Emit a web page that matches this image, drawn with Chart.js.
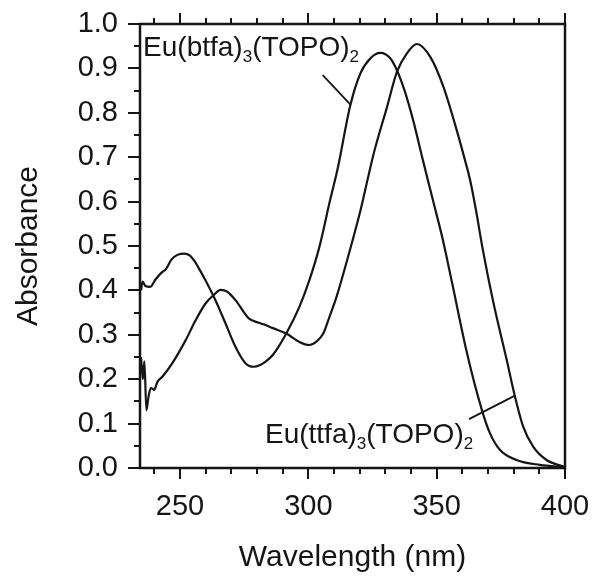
<!DOCTYPE html>
<html>
<head>
<meta charset="utf-8">
<script src="https://cdn.jsdelivr.net/npm/chart.js@4"></script>
<style>
  html, body { margin: 0; padding: 0; background: #fff; }
  #wrap { width: 592px; height: 576px; }
</style>
</head>
<body>
<div id="wrap"><canvas id="absChart" width="592" height="576"></canvas></div>
<script>
// Eu(btfa)3(TOPO)2 - wavelength (nm) / absorbance
const btfaWl = [234.8, 235.4, 236.5, 238.4, 240.5, 242.8, 244.5, 246.7, 249, 251.6, 254, 255.4, 257.5, 259.9,
  263.8, 267.7, 271.6, 275.5, 278.7, 281.2, 283.2, 286.2, 291.4, 296.5, 300.4, 304.3, 308.5, 311.3, 316.4,
  320.3, 324.2, 328, 331.9, 334.5, 337.5, 340.8, 344.6, 348.5, 352.4, 356, 361.8, 367.6, 370.7, 374.6,
  381.1, 390.2, 400];
const btfaAbs = [0.40, 0.42, 0.41, 0.408, 0.425, 0.44, 0.448, 0.47, 0.48, 0.483, 0.478, 0.468, 0.448, 0.423,
  0.378, 0.326, 0.273, 0.236, 0.228, 0.232, 0.239, 0.255, 0.303, 0.363, 0.423, 0.498, 0.604, 0.671, 0.818,
  0.889, 0.923, 0.935, 0.923, 0.896, 0.85, 0.784, 0.694, 0.604, 0.514, 0.417, 0.259, 0.131, 0.079, 0.041,
  0.018, 0.007, 0.002];

// Eu(ttfa)3(TOPO)2
const ttfaWl = [234.8, 235.5, 236.1, 236.9, 237.7, 238.6, 239.9, 241.2, 243.2, 247, 252.2, 256.1, 260,
  263.2, 265.8, 268.4, 271.6, 276.8, 280.7, 283.3, 286.2, 291.4, 296.5, 300.4, 303.2, 305.8, 308.2, 311,
  316.2, 320.3, 325.5, 330.7, 334.5, 338.4, 342.3, 347.5, 352.6, 357.8, 361, 363, 365.3, 368, 371.9,
  377.3, 380.5, 383.7, 387.6, 392.8, 400];
const ttfaAbs = [0.25, 0.20, 0.24, 0.13, 0.16, 0.18, 0.176, 0.194, 0.206, 0.236, 0.288, 0.333, 0.371,
  0.39, 0.401, 0.397, 0.378, 0.337, 0.327, 0.322, 0.315, 0.303, 0.284, 0.277, 0.285, 0.303, 0.34, 0.386,
  0.491, 0.58, 0.709, 0.814, 0.892, 0.934, 0.955, 0.926, 0.859, 0.761, 0.694, 0.649, 0.581, 0.491, 0.378,
  0.243, 0.161, 0.093, 0.048, 0.018, 0.002];

const xTickLabels = [250, 300, 350, 400];
const yTickLabels = ['0.0', '0.1', '0.2', '0.3', '0.4', '0.5', '0.6', '0.7', '0.8', '0.9', '1.0'];

const FONT = '"Liberation Sans", Arial, sans-serif';
const INK = '#151515';

const toPoints = (xs, ys) => xs.map((x, i) => ({ x: x, y: ys[i] }));

// axis frame, outward ticks and the two callout labels
const framePlugin = {
  id: 'frame',
  afterDraw(chart) {
    const { ctx, chartArea: a, scales: { x, y } } = chart;
    ctx.save();
    ctx.strokeStyle = INK;
    ctx.lineWidth = 2.5;
    ctx.strokeRect(a.left, a.top, a.right - a.left, a.bottom - a.top);

    ctx.lineWidth = 2;
    ctx.beginPath();
    for (let v = 240; v <= 400; v += 10) {
      const px = Math.round(x.getPixelForValue(v));
      const len = v % 50 === 0 ? 11 : 6;
      ctx.moveTo(px, a.bottom); ctx.lineTo(px, a.bottom + len);
      ctx.moveTo(px, a.top); ctx.lineTo(px, a.top - len);
    }
    for (let k = 0; k <= 20; k++) {
      const py = Math.round(y.getPixelForValue(k * 0.05));
      const len = k % 2 === 0 ? 12 : 6;
      ctx.moveTo(a.left, py); ctx.lineTo(a.left - len, py);
    }
    ctx.stroke();

    // callout leader lines
    ctx.lineWidth = 1.8;
    ctx.beginPath();
    ctx.moveTo(x.getPixelForValue(305.6), y.getPixelForValue(0.885));
    ctx.lineTo(x.getPixelForValue(316.5), y.getPixelForValue(0.818));
    ctx.moveTo(x.getPixelForValue(362.6), y.getPixelForValue(0.110));
    ctx.lineTo(x.getPixelForValue(380.5), y.getPixelForValue(0.163));
    ctx.stroke();

    drawFormula(ctx, 'btfa', x.getPixelForValue(235.6), y.getPixelForValue(0.927));
    drawFormula(ctx, 'ttfa', x.getPixelForValue(283.1), y.getPixelForValue(0.056));
    ctx.restore();
  }
};

function drawFormula(ctx, ligand, left, baseline) {
  const parts = [['Eu(' + ligand + ')', false], ['3', true], ['(TOPO)', false], ['2', true]];
  let cx = left;
  ctx.fillStyle = INK;
  ctx.textBaseline = 'alphabetic';
  ctx.textAlign = 'left';
  parts.forEach(([t, sub]) => {
    ctx.font = (sub ? '17px ' : '28px ') + FONT;
    ctx.fillText(t, cx, baseline + (sub ? 6 : 0));
    cx += ctx.measureText(t).width;
  });
}

const ctx = document.getElementById('absChart').getContext('2d');
new Chart(ctx, {
  type: 'line',
  data: {
    datasets: [
      {
        label: 'Eu(btfa)3(TOPO)2',
        data: toPoints(btfaWl, btfaAbs),
        borderColor: INK,
        borderWidth: 2.2,
        pointRadius: 0,
        cubicInterpolationMode: 'monotone'
      },
      {
        label: 'Eu(ttfa)3(TOPO)2',
        data: toPoints(ttfaWl, ttfaAbs),
        borderColor: INK,
        borderWidth: 2.2,
        pointRadius: 0,
        cubicInterpolationMode: 'monotone'
      }
    ]
  },
  options: {
    responsive: false,
    animation: false,
    layout: { padding: { top: 24, right: 27, left: 0, bottom: 0 } },
    plugins: { legend: { display: false }, tooltip: { enabled: false } },
    scales: {
      x: {
        type: 'linear',
        min: 234.4,
        max: 400,
        afterBuildTicks: s => { s.ticks = xTickLabels.map(v => ({ value: v })); },
        afterFit: s => { s.height = 108; s.paddingLeft = 0; s.paddingRight = 0; },
        grid: { display: false, drawTicks: false },
        border: { display: false },
        ticks: { color: INK, font: { family: FONT, size: 29 }, padding: 22, maxRotation: 0 },
        title: {
          display: true, text: 'Wavelength (nm)', color: INK,
          font: { family: FONT, size: 30, lineHeight: 1 }, padding: { top: 0, bottom: 3 }
        }
      },
      y: {
        min: 0,
        max: 1,
        afterBuildTicks: s => { s.ticks = yTickLabels.map(v => ({ value: parseFloat(v) })); },
        afterFit: s => { s.width = 140; s.paddingTop = 0; s.paddingBottom = 0; },
        grid: { display: false, drawTicks: false },
        border: { display: false },
        ticks: {
          color: INK, font: { family: FONT, size: 29 }, padding: 22,
          callback: (v, i) => yTickLabels[i]
        },
        title: {
          display: true, text: 'Absorbance', color: INK,
          font: { family: FONT, size: 30, lineHeight: 1 }, padding: { top: 14, bottom: 0 }
        }
      }
    }
  },
  plugins: [framePlugin]
});
</script>
</body>
</html>
